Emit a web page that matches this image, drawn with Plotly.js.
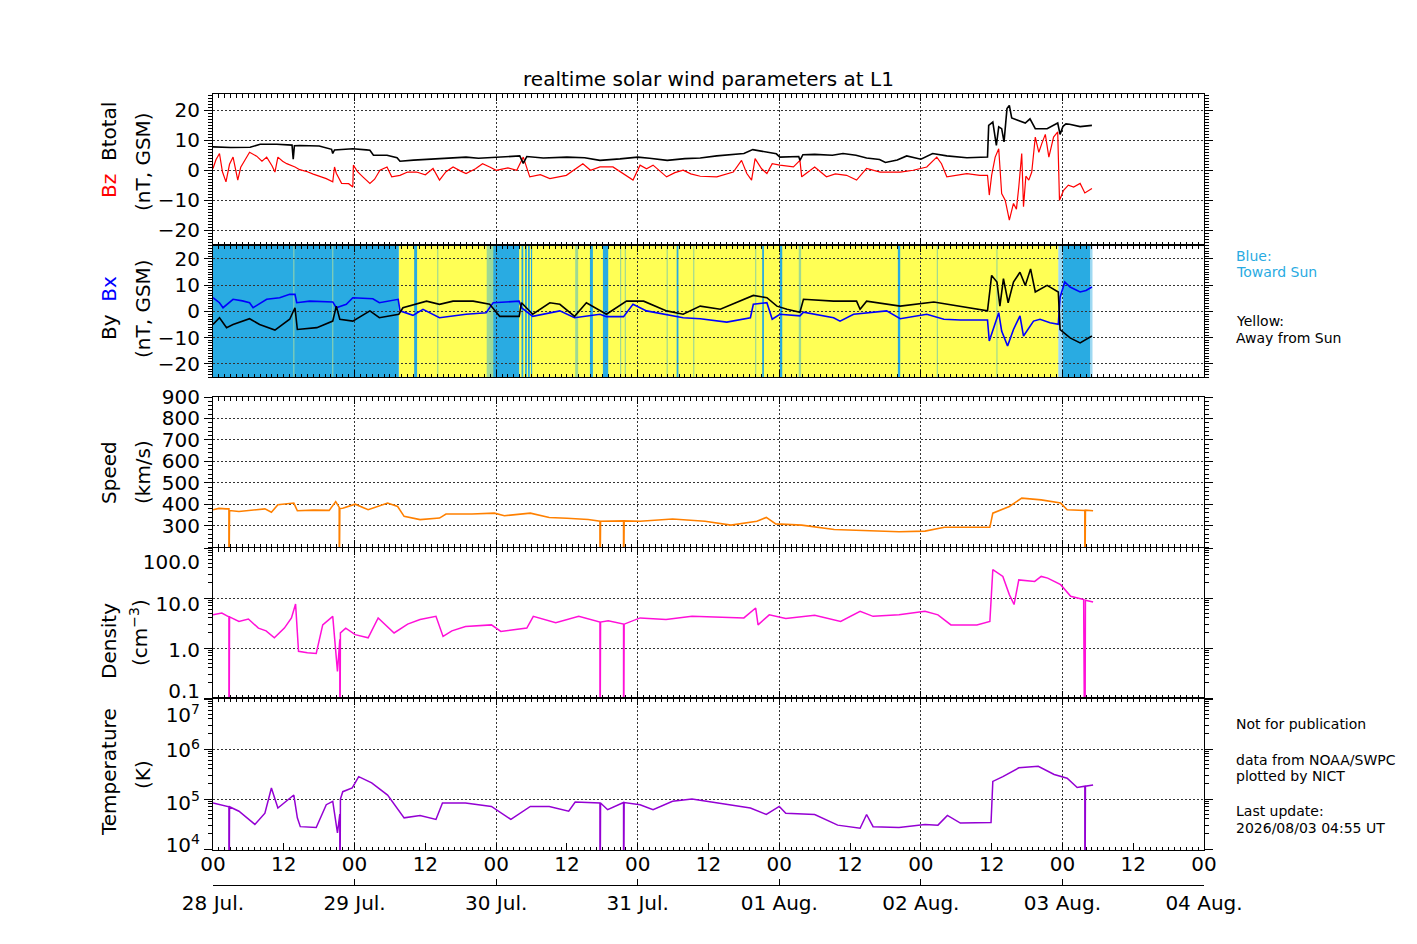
<!DOCTYPE html>
<html>
<head>
<meta charset="utf-8">
<script src="https://cdn.plot.ly/plotly-3.0.1.min.js"></script>
<style>
  html, body { margin: 0; padding: 0; background: #fff; }
  #plot { width: 1417px; height: 944px; }
</style>
</head>
<body>
<div id="plot"></div>
<script>
// all times are hours since 2026-07-28 00:00 UT

const btHours = [
  0, 3, 6.3, 8, 10.8, 13.4, 13.6, 13.8, 14.7, 18,
  20.1, 20.3, 20.6, 23.7, 26, 26.6, 27.2, 29.5, 31.2, 31.7,
  34, 37.3, 40, 42.9, 45, 48, 50, 52, 52.6, 53.2,
  56, 60, 63, 65.6, 69, 72, 74, 77, 80, 82.6,
  85.4, 88, 90, 91.5, 94, 95.5, 96.1, 99.3, 99.5, 100,
  102, 105, 106.8, 109, 110.8, 113, 114, 116, 117.6, 120,
  122, 124.4, 127.8, 131.3, 131.5, 132.2, 132.8, 133.2, 133.7, 134.1,
  134.6, 135, 135.4, 136.3, 137.7, 138.5, 139.4, 141.4, 143.2, 143.6,
  144.1, 144.6, 145.2, 147, 149]
const btValues = [
  7.8, 7.6, 7.7, 8.7, 8.7, 8.4, 3.7, 8.2, 8.3, 8.1,
  7.0, 5.6, 6.8, 7.2, 6.8, 6.7, 5.0, 5.0, 4.2, 3.0,
  3.4, 3.7, 3.9, 4.4, 4.0, 4.4, 4.6, 4.8, 2.3, 4.6,
  4.1, 4.4, 4.2, 3.3, 3.8, 4.4, 4.0, 3.3, 3.9, 4.1,
  4.8, 5.3, 5.6, 6.9, 6.1, 5.5, 4.4, 4.6, 3.3, 5.2,
  5.3, 5.0, 5.6, 5.0, 4.1, 3.6, 2.6, 3.4, 4.8, 3.7,
  5.6, 4.8, 4.2, 4.4, 15.0, 16.1, 8.3, 14.5, 13.9, 9.5,
  20.6, 21.7, 17.5, 16.9, 15.8, 17.2, 13.9, 13.9, 15.8, 12.0,
  14.7, 15.5, 15.4, 14.6, 15.0]

const bzHours = [
  0, 0.5, 1.1, 1.6, 2.2, 2.8, 3.4, 3.8, 4.2, 4.7,
  5.1, 5.6, 6.2, 7.4, 8.3, 9.1, 10.0, 10.5, 11.0, 11.8,
  12.5, 13.9, 14.7, 16, 17, 18, 19.2, 20.3, 20.6, 20.9,
  21.8, 23, 23.7, 23.8, 24.5, 25.4, 26.6, 27.4, 28.3, 29.5,
  30.3, 31.7, 33, 34.5, 36, 37.3, 38.4, 39.5, 40.7, 42,
  42.9, 44.5, 45.7, 47, 48, 50, 51.5, 52.6, 53.7, 55.5,
  57.1, 59.9, 61.5, 62.7, 64, 65.6, 67.8, 69.5, 71.2, 72.4,
  73.5, 74.6, 76.9, 78.3, 79.7, 81, 82.6, 85.4, 88.2, 89.6,
  90.5, 91.3, 91.9, 93, 93.9, 94.8, 96.1, 98.4, 99.5, 99.8,
  102, 104, 105.5, 107.4, 109.1, 110.8, 113.1, 116.5, 118.7, 121,
  122.7, 123.5, 124.4, 127.8, 130, 131.3, 131.6, 132, 132.6, 133.2,
  133.7, 134.3, 135, 135.7, 136.2, 136.6, 137.1, 137.4, 137.8, 138.3,
  138.8, 139.4, 140, 140.5, 141.1, 141.7, 142.5, 143.2, 143.5, 144.2,
  145, 145.9, 147, 147.8, 149]
const bzValues = [
  0.6, 3.5, 5.6, -0.5, -3.9, 2.0, 4.4, 0.5, -3.3, 1.0,
  2.2, 4.0, 6.0, 4.7, 3.0, 4.4, 1.5, -0.6, 4.4, 3.0,
  2.2, 1.1, 0.2, -0.5, -1.3, -2.0, -2.8, -3.9, 1.1, -1.0,
  -4.4, -4.5, -5.6, 1.7, -0.5, -2.2, -4.4, -3.0, 0, 1.1,
  -2.2, -1.7, -0.6, -0.6, -1.5, 0.6, -3.3, -0.5, 1.1, -0.3,
  -1.1, 0.5, 2.2, 1.0, 0, 0.8, 0, 4.4, -2.2, -1.5,
  -2.8, -1.7, 0.5, 2.2, 0.0, 1.1, 1.1, -1.0, -3.3, 1.7,
  0.5, 1.7, -2.2, -0.8, 0, -1.2, -2.0, -2.2, -0.6, 3.3,
  -1.1, -3.3, 3.9, 0.5, -1.1, 2.2, 1.7, 1.1, 3.3, -2.2,
  1.1, -2.2, -1.2, -1.7, -3.3, 0.6, -0.6, -0.6, 0, 1.1,
  4.4, 2.2, -2.2, -1.1, -1.7, -1.7, -8.3, -1.7, 4.4, 7.2,
  -7.8, -10, -16.7, -11.1, -13, -5.6, 5.6, -12.2, -2, -3.3,
  -0.6, 11.1, 6, 8.9, 12, 4.4, 11.1, 12.8, -10, -6.7,
  -5, -5.6, -4.4, -7.6, -6.1]

const bxHours = [
  0, 1.1, 1.7, 3.4, 5, 6.2, 6.8, 9.1, 11.3, 13.0,
  13.9, 14.2, 16.4, 20.3, 20.9, 22.6, 23.7, 27.1, 28.2, 31.4,
  31.7, 33.9, 35.6, 38.4, 42.9, 46.3, 47.5, 51.9, 52.3, 54.2,
  58.8, 61.3, 65.6, 66.7, 69.6, 71.2, 73.5, 76.9, 79.7, 82.6,
  87.1, 91.1, 91.6, 93.9, 94.8, 96.1, 99.5, 100.1, 105.2, 106.3,
  108.6, 114.2, 116.5, 121, 123.9, 126.7, 131.3, 131.6, 132.3, 133.2,
  133.7, 134.7, 135.7, 136.8, 137.4, 139.1, 140.2, 141.9, 143.3, 143.6,
  144.4, 145.3, 147, 148, 149]
const bxValues = [
  5.2, 3.3, 1.4, 4.6, 4.0, 3.3, 1.4, 4.6, 5.2, 6.5,
  6.5, 3.3, 3.9, 3.6, 1.4, 2.7, 5.2, 4.8, 3.3, 4.6,
  0.2, -1.5, 0.8, -2.4, -1.1, -0.5, 3.3, 3.9, 1.4, -1.9,
  0.2, -2.4, -1.1, -2.0, -2.0, 2.7, 0.2, -1.1, -2.4, -2.8,
  -4.1, -2.4, 2.7, 3.3, -3.0, -1.1, -1.7, -0.3, -2.4, -3.7,
  -1.1, 0.2, -2.8, -1.1, -3.0, -3.3, -3.3, -11.3, -6.9, -0.5,
  -7.5, -13.2, -6.9, -1.7, -9.4, -3.7, -3.0, -4.3, -4.9, 5.4,
  11.2, 9.3, 7.4, 8.0, 9.3]

const byHours = [
  0, 1.1, 2.3, 3.4, 6.2, 7.9, 10.5, 13.0, 13.9, 14.3,
  17.6, 20.3, 20.9, 21.5, 23.7, 26.6, 28.2, 31.5, 32.2, 36.2,
  38.4, 40.7, 44.1, 46.9, 48.6, 51.9, 52.3, 54.2, 57.1, 58.8,
  61.3, 63.3, 66.7, 70.1, 73, 76.9, 79.7, 82.6, 86, 90,
  91.6, 93.9, 95.6, 97.3, 99.5, 100.1, 105.2, 109.1, 109.7, 110.8,
  114.2, 116.5, 122.2, 127.8, 131.3, 132, 132.9, 133.4, 134, 134.8,
  135.7, 136.8, 137.7, 138.6, 139.4, 141.4, 143.3, 143.6, 145.3, 147,
  149]
const byValues = [
  -5.0, -2.4, -6.2, -5.0, -2.8, -5.0, -7.1, -3.0, 1.4, -6.9,
  -6.2, -3.7, 2.0, -3.0, -3.7, 0.2, -2.4, -1.1, 1.4, 3.9,
  2.7, 3.9, 3.9, 2.7, -1.9, -1.9, 3.3, -1.1, 3.3, 2.7,
  -1.9, 3.3, -1.1, 3.9, 3.9, 0.2, -1.1, 2.0, 0.8, 4.6,
  6.1, 5.2, 2.0, 0.8, -0.3, 4.6, 3.9, 3.9, 0.8, 3.9,
  2.7, 2.0, 3.6, 1.4, 0.2, 13.7, 11.2, 2.0, 12.5, 3.3,
  11.2, 14.9, 9.9, 16.2, 7.4, 9.9, 7.4, -6.9, -10.1, -12.0,
  -9.4]

// zero values are the data dropouts that fall to the bottom of the panel
const speedHours = [
  0, 1, 2.2, 2.7, 2.7, 2.8, 4.4, 6.5, 8.8, 9.9,
  11.0, 13.7, 14.3, 17, 19.7, 20.8, 21.4, 21.4, 21.5, 22.0,
  24.1, 26.3, 29.6, 31.3, 32.4, 35.1, 38.4, 39.5, 43.9, 47.7,
  49.4, 53.8, 57.0, 60, 63.6, 65.6, 65.6, 65.7, 69.6, 69.6,
  69.7, 72.4, 77.9, 83.4, 87.8, 92.2, 93.8, 95.4, 99.8, 105.3,
  111.9, 116.3, 120.7, 124, 131.7, 132.2, 135, 137.1, 140.4, 143.7,
  144.8, 147.8, 147.8, 147.9, 149.2]
const speedValues = [
  374, 380, 378, 378, 0, 370, 366, 372, 378, 362,
  397, 405, 369, 372, 371, 412, 385, 0, 380, 381,
  400, 374, 405, 389, 343, 328, 335, 354, 354, 358,
  346, 358, 338, 334, 328, 320, 0, 320, 322, 0,
  322, 320, 331, 320, 302, 320, 338, 308, 302, 282,
  277, 271, 274, 292, 292, 358, 389, 428, 420, 405,
  374, 370, 0, 372, 369]

const densityHours = [
  0, 1.5, 2.7, 2.7, 2.8, 4.4, 6, 7.7, 9, 10.4,
  12.1, 13.3, 14.0, 14.5, 16, 17.5, 18.6, 20.3, 21.1, 21.5,
  21.5, 21.6, 22.5, 24.1, 26.3, 28.0, 30.7, 33, 35.1, 37.8,
  39.0, 40.5, 42.8, 47.2, 48.8, 51, 53.2, 54.3, 58.1, 62.0,
  65.6, 65.6, 65.7, 67, 69.6, 69.6, 69.7, 72.4, 76.8, 81.2,
  85.6, 90.0, 92.0, 92.4, 94.3, 97.1, 102, 106.4, 109.7, 111.9,
  116.3, 120.7, 122.9, 125.1, 129.5, 131.7, 132.2, 133.9, 135, 135.8,
  136.6, 139.3, 140.4, 141.5, 143.7, 145.4, 147.6, 147.8, 147.9, 149.2]
const densityValues = [
  4.6, 5.0, 4.2, 0.001, 4.2, 3.4, 3.8, 2.5, 2.2, 1.6,
  2.5, 4.0, 7.6, 0.86, 0.8, 0.78, 2.9, 4.3, 0.34, 1.5,
  0.001, 2.0, 2.5, 1.85, 1.6, 4.0, 2.0, 3.0, 3.7, 4.3,
  1.7, 2.2, 2.7, 2.9, 2.15, 2.3, 2.5, 4.3, 3.2, 4.3,
  3.3, 0.001, 3.3, 3.5, 3.0, 0.001, 3.0, 4.0, 3.7, 4.3,
  4.1, 4.0, 6.3, 2.9, 4.6, 3.9, 4.5, 3.4, 5.4, 4.3,
  4.6, 5.4, 4.6, 2.9, 2.9, 3.4, 36.9, 27, 11.7, 7.4,
  23, 21.5, 27, 25, 18.5, 10.8, 9.3, 0.001, 9.0, 8.3]

const tempHours = [
  0, 2.7, 2.7, 2.8, 4.4, 7.1, 8.8, 9.9, 11.0, 13.7,
  14.3, 14.8, 17.5, 19.2, 20.3, 21.1, 21.5, 21.5, 21.6, 22.0,
  23.6, 24.7, 26.9, 29.6, 32.4, 35.1, 37.8, 38.9, 42.8, 47.2,
  50.5, 53.8, 57.0, 60.3, 61.4, 65.6, 65.6, 65.7, 66.9, 69.6,
  69.6, 69.7, 72.4, 74.6, 77.9, 81.2, 85.6, 91.1, 93.8, 96.0,
  97.1, 102.0, 105.9, 109.7, 110.8, 111.9, 116.3, 120.7, 122.9, 124.5,
  126.7, 131.9, 132.2, 133.9, 136.6, 139.9, 142.6, 144.8, 146.5, 147.8,
  147.8, 147.9, 149.2]
const tempValues = [
  8.3e4, 7e4, 100, 7e4, 5.7e4, 3.1e4, 5.2e4, 1.66e5, 6.6e4, 1.2e5,
  4.2e4, 2.8e4, 2.7e4, 7.7e4, 9e4, 2.1e4, 5e4, 100, 1.0e5, 1.4e5,
  1.66e5, 2.8e5, 2.1e5, 1.2e5, 4.2e4, 4.7e4, 3.9e4, 8.3e4, 8.3e4, 7.1e4,
  3.9e4, 7.1e4, 7.1e4, 5.7e4, 8.7e4, 8.3e4, 100, 8.3e4, 6.1e4, 8.5e4,
  100, 8.5e4, 7.7e4, 6.1e4, 9e4, 1.0e5, 8.3e4, 6.6e4, 4.9e4, 7.1e4,
  5.2e4, 4.9e4, 3.0e4, 2.6e4, 4.9e4, 2.8e4, 2.7e4, 3.1e4, 3.0e4, 4.7e4,
  3.3e4, 3.4e4, 2.25e5, 2.8e5, 4.2e5, 4.5e5, 3.1e5, 2.6e5, 1.7e5, 1.8e5,
  100, 1.8e5, 1.9e5]

// IMF sector (panel 2 background)
const awayStart = [31.5]
const awayEnd = [143.3]
const towardStart = [0, 34.1, 47.5, 52.3, 52.9, 53.4, 53.9, 63.9, 66.1, 78.6, 93.1, 96.1, 116.1, 144.1]
const towardEnd = [31.5, 34.6, 51.9, 52.6, 53.2, 53.7, 54.1, 64.4, 67.0, 78.9, 93.4, 96.5, 116.5, 148.7]
const fadedTowardStart = [38.0, 46.4, 61.4, 69.0, 69.8, 76.9, 81.4, 91.9, 99.3, 122.7, 132.8, 143.3, 148.7]
const fadedTowardEnd = [38.2, 47.5, 61.9, 69.2, 70.0, 77.1, 81.6, 92.1, 99.7, 122.9, 133.0, 144.1, 149.1]
const fadedAwayStart = [13.6, 20.2]
const fadedAwayEnd = [13.8, 20.4]

const dayTicks = [0, 24, 48, 72, 96, 120, 144, 168]
const dayLabels = ['28 Jul.', '29 Jul.', '30 Jul.', '31 Jul.', '01 Aug.', '02 Aug.', '03 Aug.', '04 Aug.']
const hourTicks = [0, 12, 24, 36, 48, 60, 72, 84, 96, 108, 120, 132, 144, 156, 168]
const hourLabels = ['00', '12', '00', '12', '00', '12', '00', '12', '00', '12', '00', '12', '00', '12', '00']

const W = 1417, H = 944
const M = {l: 213, r: 213, t: 94, b: 44}
const plotH = H - M.t - M.b
// pixel rows -> paper fraction
function py(y) { return (H - M.b - y) / plotH }
function px(x) { return (x - M.l) / (W - M.l - M.r) }

const FONT = 'DejaVu Sans, Verdana, sans-serif'
const GRID = '#333'
const DASH = '1.5px,2.5px'

function line(xs, ys, color, n, width) {
  return {
    x: xs, y: ys, type: 'scatter', mode: 'lines',
    line: {color: color, width: width || 1.1},
    xaxis: 'x' + (n === 1 ? '' : n), yaxis: 'y' + (n === 1 ? '' : n),
    showlegend: false, hoverinfo: 'skip'
  }
}

const data = [
  line(bzHours, bzValues, '#ff0000', 1, 1.2),
  line(btHours, btValues, '#000000', 1, 1.6),
  line(bxHours, bxValues, '#0000ff', 2, 1.6),
  line(byHours, byValues, '#000000', 2, 1.6),
  line(speedHours, speedValues, '#ff8000', 3, 1.6),
  line(densityHours, densityValues, '#ff10d8', 4, 1.5),
  line(tempHours, tempValues, '#9400d3', 5, 1.5),
  // empty traces that carry the label-only overlay axes
  {x: [0], y: [null], xaxis: 'x6', yaxis: 'y5', showlegend: false, hoverinfo: 'skip'},
  {x: [0], y: [null], xaxis: 'x7', yaxis: 'y5', showlegend: false, hoverinfo: 'skip'},
  {x: [0], y: [null], xaxis: 'x4', yaxis: 'y6', showlegend: false, hoverinfo: 'skip'},
  {x: [0], y: [null], xaxis: 'x5', yaxis: 'y7', showlegend: false, hoverinfo: 'skip'}
]

function xAxis(n) {
  return {
    domain: [0, 1], anchor: 'y' + (n === 1 ? '' : n), range: [0, 168],
    tickmode: 'linear', tick0: 0, dtick: 24, ticks: 'inside', ticklen: 7, tickcolor: '#000',
    showticklabels: false, showline: true, linecolor: '#000', linewidth: 1, mirror: 'ticks',
    showgrid: true, gridcolor: GRID, griddash: DASH, gridwidth: 1, zeroline: false,
    minor: {tick0: 0, dtick: 1, ticks: 'inside', ticklen: 3.5, tickcolor: '#000', showgrid: false}
  }
}

function yAxis(n, dom, extra) {
  const a = {
    domain: dom, anchor: 'x' + (n === 1 ? '' : n),
    ticks: 'outside', ticklen: 8, tickcolor: '#000',
    showline: true, linecolor: '#000', linewidth: 1, mirror: 'ticks',
    showgrid: true, gridcolor: GRID, griddash: DASH, gridwidth: 1, zeroline: false,
    tickfont: {family: FONT, size: 20, color: '#000'}
  }
  return Object.assign(a, extra)
}

function logMinor(lo, hi) {
  const v = []
  for (let k = lo; k < hi; k++) for (let d = 2; d <= 9; d++) v.push(d * Math.pow(10, k))
  return v
}

const shapes = []
function band(starts, ends, color) {
  starts.forEach(function (s, i) {
    shapes.push({type: 'rect', xref: 'x2', yref: 'y2 domain', x0: s, x1: ends[i], y0: 0, y1: 1,
      fillcolor: color, line: {width: 0}, layer: 'below'})
  })
}
band(awayStart, awayEnd, '#ffff55')
band(towardStart, towardEnd, '#29abe2')
band(fadedTowardStart, fadedTowardEnd, 'rgba(41,171,226,0.45)')
band(fadedAwayStart, fadedAwayEnd, 'rgba(255,255,120,0.45)')

function ytitle(text, xPix, yPix, color) {
  return {text: text, xref: 'paper', yref: 'paper', x: px(xPix), y: py(yPix),
    xanchor: 'center', yanchor: 'middle', textangle: -90, showarrow: false,
    font: {family: FONT, size: 20, color: color || '#000'}}
}
function note(text, yPix, color) {
  return {text: text, xref: 'paper', yref: 'paper', x: px(1234), y: py(yPix),
    xanchor: 'left', yanchor: 'middle', showarrow: false,
    font: {family: FONT, size: 14, color: color || '#000'}}
}

const layout = {
  width: W, height: H, margin: M,
  paper_bgcolor: '#fff', plot_bgcolor: '#fff',
  font: {family: FONT, size: 20, color: '#000'},
  title: {text: 'realtime solar wind parameters at L1', font: {family: FONT, size: 20, color: '#000'},
    x: 0.5, xref: 'paper', y: 1 - 79 / H, yref: 'container', yanchor: 'middle'},
  xaxis: xAxis(1), xaxis2: xAxis(2), xaxis3: xAxis(3), xaxis4: xAxis(4), xaxis5: xAxis(5),
  xaxis6: {
    overlaying: 'x5', anchor: 'free', position: py(885), side: 'bottom', range: [0, 168],
    tickmode: 'array', tickvals: dayTicks, ticktext: dayLabels, ticks: 'inside', ticklen: 6,
    tickcolor: '#000', showline: true, linecolor: '#000', showgrid: false, zeroline: false,
    tickfont: {family: FONT, size: 20, color: '#000'}
  },
  xaxis7: {
    overlaying: 'x5', anchor: 'y5', side: 'bottom', range: [0, 168],
    tickmode: 'array', tickvals: hourTicks, ticktext: hourLabels, ticks: 'inside', ticklen: 7,
    tickcolor: '#000', showline: false, showgrid: false, zeroline: false,
    tickfont: {family: FONT, size: 20, color: '#000'}
  },
  yaxis: yAxis(1, [py(245), py(94)], {range: [-25, 25.5], tickvals: [-20, -10, 0, 10, 20],
    minor: {dtick: 1, tick0: 0, ticks: 'outside', ticklen: 4, tickcolor: '#000', showgrid: false}}),
  yaxis2: yAxis(2, [py(377), py(245)], {range: [-25, 25.3], tickvals: [-20, -10, 0, 10, 20],
    minor: {dtick: 1, tick0: 0, ticks: 'outside', ticklen: 4, tickcolor: '#000', showgrid: false}}),
  yaxis3: yAxis(3, [py(547), py(397)], {range: [200, 900], tickvals: [300, 400, 500, 600, 700, 800, 900],
    minor: {dtick: 20, tick0: 0, ticks: 'outside', ticklen: 4, tickcolor: '#000', showgrid: false}}),
  yaxis4: yAxis(4, [py(698), py(548)], {type: 'log', range: [-1, 2], tickvals: [0.1, 1, 10, 100],
    showticklabels: false,
    minor: {tickmode: 'array', tickvals: logMinor(-1, 2), ticks: 'outside', ticklen: 4, tickcolor: '#000', showgrid: false}}),
  yaxis5: yAxis(5, [py(850), py(698)], {type: 'log', range: [3.98, 7.02], tickvals: [1e4, 1e5, 1e6, 1e7],
    showticklabels: false,
    minor: {tickmode: 'array', tickvals: logMinor(3, 7), ticks: 'outside', ticklen: 4, tickcolor: '#000', showgrid: false}}),
  // label-only axes: the original puts these labels slightly off their decades
  yaxis6: {overlaying: 'y4', anchor: 'x4', side: 'left', type: 'log', range: [-1, 2],
    tickmode: 'array', tickvals: [0.138, 0.91, 7.6, 52.5], ticktext: ['0.1', '1.0', '10.0', '100.0'],
    ticks: 'outside', ticklen: 8, tickcolor: 'rgba(0,0,0,0)', showline: false, showgrid: false, zeroline: false,
    tickfont: {family: FONT, size: 20, color: '#000'}},
  yaxis7: {overlaying: 'y5', anchor: 'x5', side: 'left', type: 'log', range: [3.98, 7.02],
    tickmode: 'array', tickvals: [1.2e4, 8.5e4, 9.5e5, 4.8e6],
    ticktext: ['10<sup>4</sup>', '10<sup>5</sup>', '10<sup>6</sup>', '10<sup>7</sup>'],
    ticks: 'outside', ticklen: 8, tickcolor: 'rgba(0,0,0,0)', showline: false, showgrid: false, zeroline: false,
    tickfont: {family: FONT, size: 20, color: '#000'}},
  shapes: shapes,
  annotations: [
    ytitle('<span style="color:#ff0000">Bz</span>  Btotal', 109, 150),
    ytitle('(nT, GSM)', 143, 162),
    ytitle('By  <span style="color:#0000ff">Bx</span>', 109, 308),
    ytitle('(nT, GSM)', 143, 309),
    ytitle('Speed', 109, 473),
    ytitle('(km/s)', 143, 472),
    ytitle('Density', 109, 641),
    ytitle('(cm<sup>−3</sup>)', 139, 633),
    ytitle('Temperature', 109, 772),
    ytitle('(K)', 143, 775),
    note('Blue:', 256, '#29abe2'),
    note('Toward Sun', 272, '#29abe2'),
    note('Yellow:', 321),
    note('Away from Sun', 338),
    note('Not for publication', 724),
    note('data from NOAA/SWPC', 760),
    note('plotted by NICT', 776),
    note('Last update:', 811),
    note('2026/08/03 04:55 UT', 828)
  ]
}

Plotly.newPlot('plot', data, layout, {staticPlot: true, displayModeBar: false})
</script>
</body>
</html>
